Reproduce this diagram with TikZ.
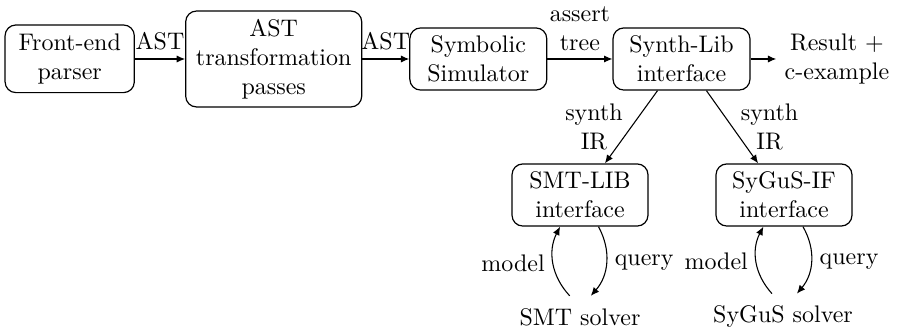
\documentclass[tikz,border=0pt]{standalone}
\usetikzlibrary{arrows.meta}
\begin{document}
\begin{tikzpicture}[x=0.417pt,y=-0.417pt,
  box/.style={draw,rounded corners=4.5pt,align=center,line width=0.5pt,inner sep=1pt},
  plain/.style={align=center},
  conn/.style={-{Latex[length=3.5pt,width=3pt]},line width=0.45pt},
  solver/.style={inner sep=5pt}]
\useasboundingbox (0,0) rectangle (899,327);
\node[box,minimum width=53.9pt,minimum height=28.2pt] (fe) at (69.7,58.8) {Front-end\\parser};
\node[box,minimum width=73.4pt,minimum height=40pt] (ast) at (273.7,59) {AST\\transformation\\passes};
\node[box,minimum width=57.1pt,minimum height=25.9pt] (sym) at (478.3,59) {Symbolic\\Simulator};
\node[box,minimum width=57.1pt,minimum height=25.9pt] (syn) at (681.5,59) {Synth-Lib\\interface};
\node[plain] (res) at (837,59) {Result +\\c-example};
\node[box,minimum width=56.7pt,minimum height=25.9pt] (smt) at (580,195) {SMT-LIB\\interface};
\node[box,minimum width=56.7pt,minimum height=25.9pt] (sgi) at (784,195) {SyGuS-IF\\interface};
\node[solver] (smts) at (580,317) {SMT solver};
\node[solver] (sgs) at (783,317) {SyGuS solver};

\draw[conn] (fe.east |- 0,59) -- node[above] {AST} (ast.west |- 0,59);
\draw[conn] (ast.east |- 0,59) -- node[above] {AST} (sym.west);
\draw[conn] (sym.east) -- node[above,align=center] {assert\\tree} (syn.west);
\draw[conn] (syn.east) -- (res.west);
\draw[conn] ([xshift=-10pt]syn.south) -- node[left,align=center] {synth\\IR} ([xshift=10.4pt]smt.north);
\draw[conn] ([xshift=10.4pt]syn.south) -- node[right,align=center] {synth\\IR} ([xshift=-10.8pt]sgi.north);

\draw[conn] ([xshift=-4.3pt]smts.north) to[bend left=35] node[left] {model} ([xshift=-8.3pt]smt.south);
\draw[conn] ([xshift=7.7pt]smt.south) to[bend left=35] node[right] {query} ([xshift=4.5pt]smts.north);
\draw[conn] ([xshift=-4.6pt]sgs.north) to[bend left=35] node[left] {model} ([xshift=-8.6pt]sgi.south);
\draw[conn] ([xshift=7.9pt]sgi.south) to[bend left=35] node[right] {query} ([xshift=5.8pt]sgs.north);
\end{tikzpicture}
\end{document}
